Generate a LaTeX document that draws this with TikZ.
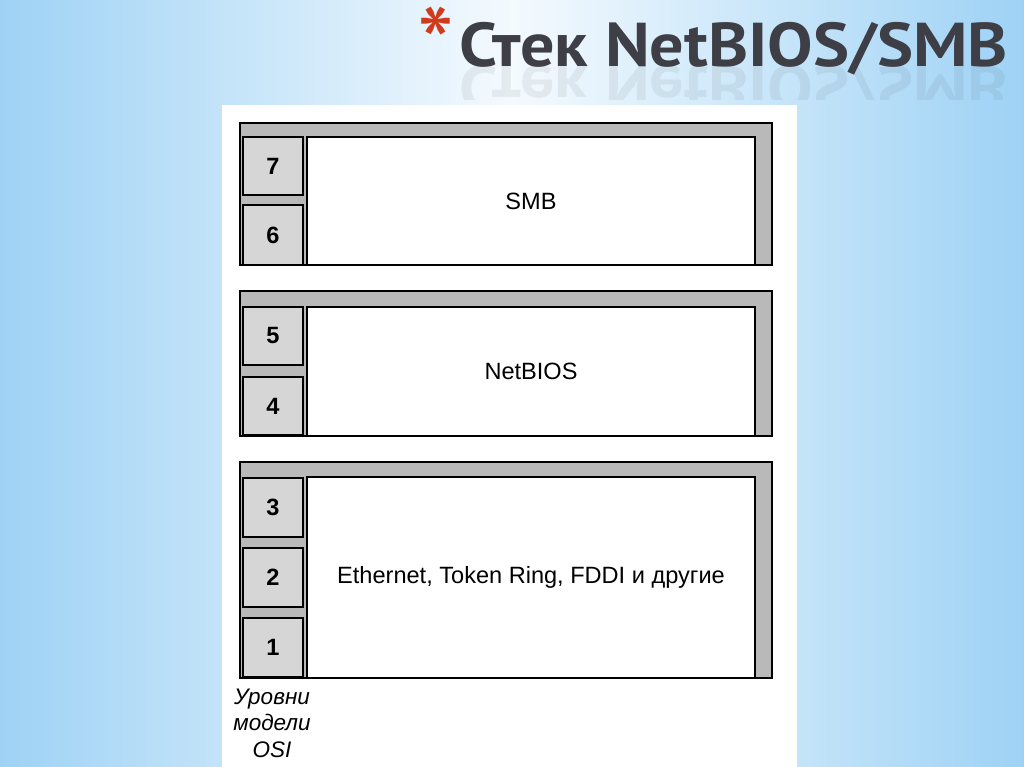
\documentclass[tikz,border=0pt]{standalone}
\usepackage{fontspec}
\setmainfont{Liberation Sans}
\newfontfamily\titlefont{PT Sans}

\definecolor{skyblue}{HTML}{9ED2F5}
\definecolor{skywhite}{HTML}{F4FAFE}
\definecolor{titlegray}{HTML}{3E3F46}
\definecolor{starred}{HTML}{D23A1C}
\definecolor{framegray}{HTML}{B9B9B9}
\definecolor{levelgray}{HTML}{D6D6D6}

\begin{document}
\begin{tikzpicture}[x=0.01cm, y=-0.01cm]
\tikzset{ inner sep=0pt, outer sep=0pt,
  frame/.style={draw, fill=framegray, line width=0.65pt, minimum width=5.32cm},
  proto/.style={draw, fill=white, line width=0.65pt, minimum width=4.48cm, font=\fontsize{6.7}{7}\selectfont},
  level/.style={draw, fill=levelgray, line width=0.65pt, minimum width=0.60cm, font=\bfseries\fontsize{6.7}{7}\selectfont},
  heading/.style={anchor=base west, text=titlegray, xscale=1.1, transform shape, font=\titlefont\bfseries\fontsize{17.6}{20}\selectfont},
}

\useasboundingbox (0,0) rectangle (1024,767);

% background
\fill [left color=skyblue, right color=skywhite] (0,0) rectangle (512,767);
\fill [left color=skywhite, right color=skyblue] (512,0) rectangle (1024,767);
\fill [white] (222,105) rectangle (797,767);

% title
\node [heading] (title) at (459,67) {Стек NetBIOS/SMB};
\begin{scope}
\clip (440,67) rectangle (1024,100);
\node [heading, yscale=-1, opacity=0.08] (mirror) at (459,67) {Стек NetBIOS/SMB};
\end{scope}
\node [text=starred, font=\titlefont\fontsize{30}{30}\selectfont, anchor=base] (star) at (436,83) {*};

% SMB
\node [frame, minimum height=1.42cm] (F1) at (506,194) {};
\node [proto, minimum height=1.28cm] (SMB) at (531,201) {SMB};
\node [level, minimum height=0.58cm] (L7) at (273,166) {7};
\node [level, minimum height=0.60cm] (L6) at (273,235) {6};

% NetBIOS
\node [frame, minimum height=1.45cm] (F2) at (506,363.5) {};
\node [proto, minimum height=1.29cm] (NB) at (531,371.5) {NetBIOS};
\node [level, minimum height=0.58cm] (L5) at (273,336) {5};
\node [level, minimum height=0.58cm] (L4) at (273,406) {4};

% lower layers
\node [frame, minimum height=2.16cm] (F3) at (506,570) {};
\node [proto, minimum height=2.01cm] (NET) at (531,577.5) {Ethernet, Token Ring, FDDI и другие};
\node [level, minimum height=0.59cm] (L3) at (273,507.5) {3};
\node [level, minimum height=0.59cm] (L2) at (273,577.5) {2};
\node [level, minimum height=0.59cm] (L1) at (273,647.5) {1};

\node [align=center, font=\itshape\fontsize{6.4}{7.5}\selectfont] (osi) at (272,723) {Уровни\\модели\\OSI};

\end{tikzpicture}
\end{document}
